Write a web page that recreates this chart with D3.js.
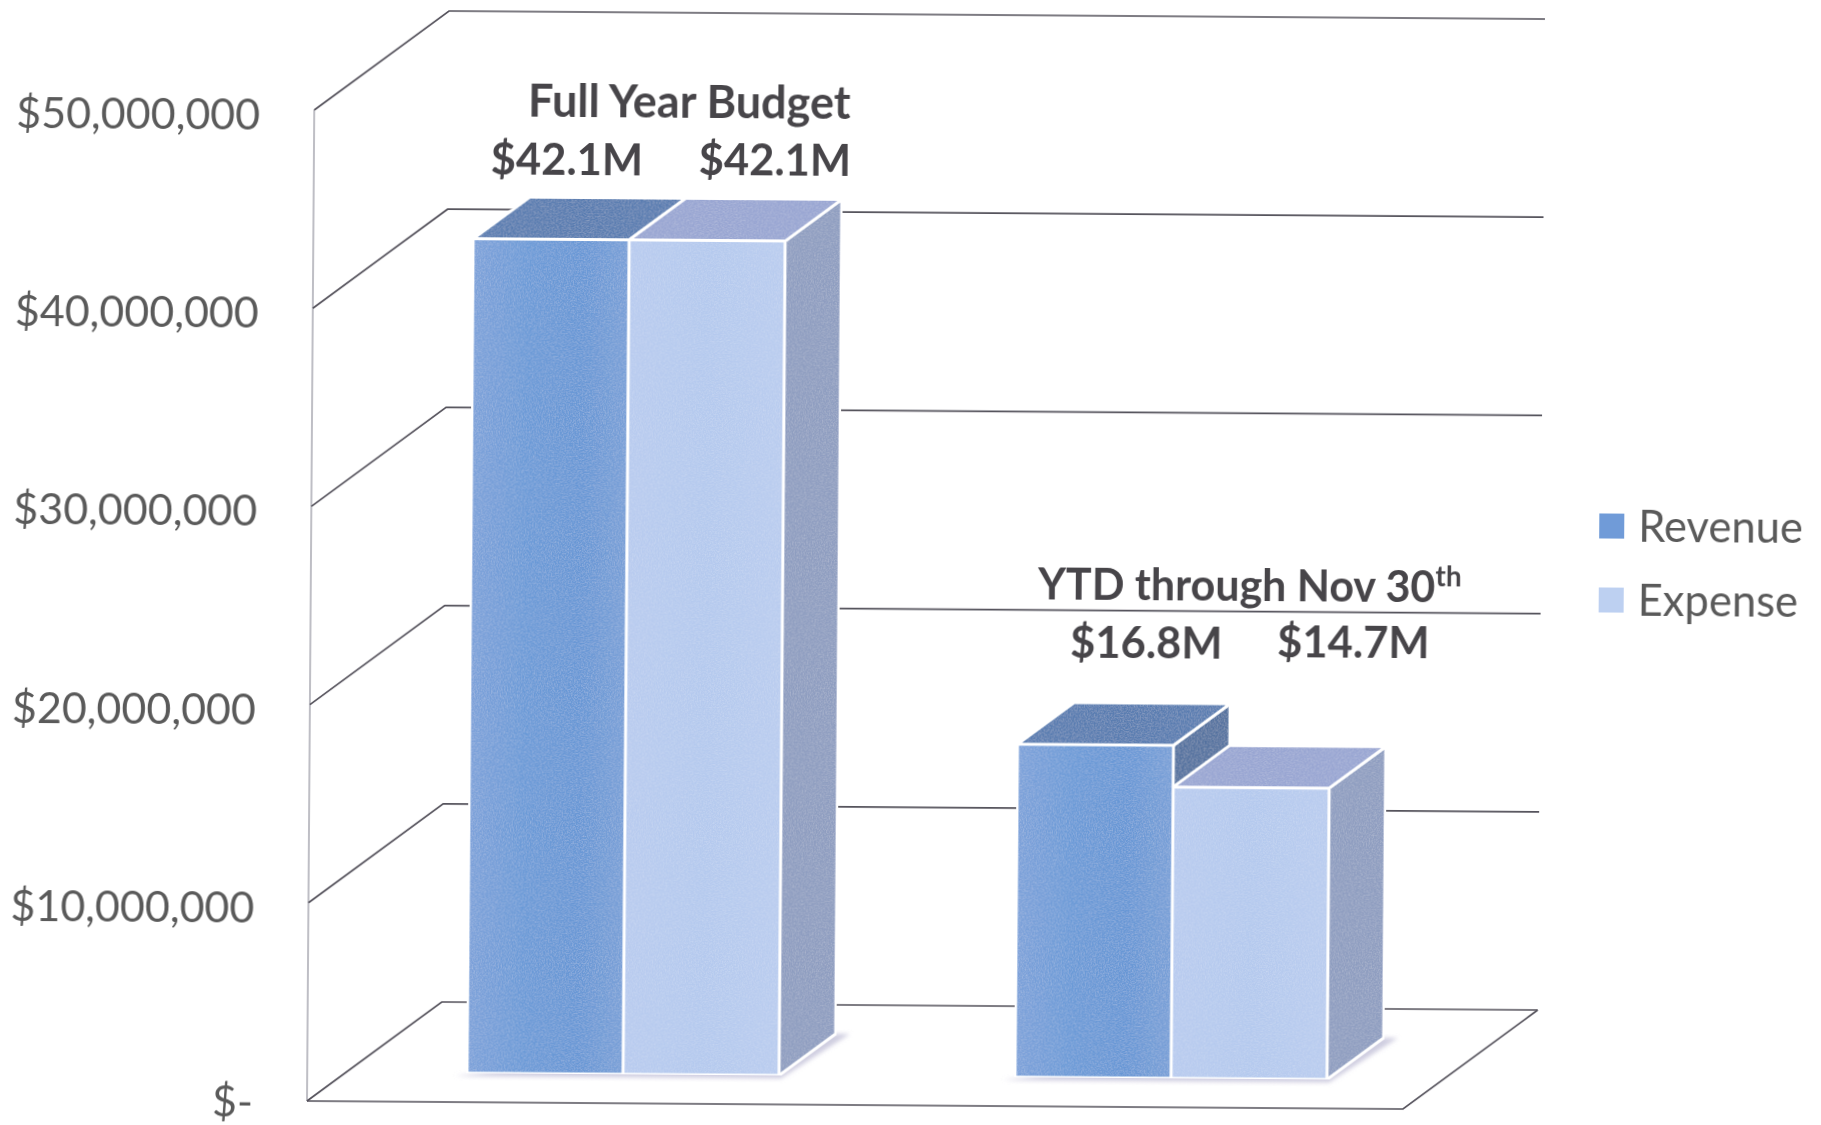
<!DOCTYPE html>
<html><head><meta charset="utf-8">
<script src="https://cdnjs.cloudflare.com/ajax/libs/d3/7.8.5/d3.min.js"></script>
<style>html,body{margin:0;padding:0;background:#fff}svg{display:block}text{font-family:Lato,"Open Sans",sans-serif}</style>
</head><body><svg id="c" width="1821" height="1125"></svg>
<script>
const categories = ["Full Year Budget", "YTD through Nov 30"];
const seriesNames = ["Revenue", "Expense"];
const revenue = [42100000, 16800000];
const expense = [42100000, 14700000];
const maxValue = 50000000;

const svg = d3.select("#c");
const defs = svg.append("defs");
const frontGrad = (id, stops) => {
  const g = defs.append("linearGradient").attr("id", id);
  stops.forEach(([o, c]) => g.append("stop").attr("offset", o).attr("stop-color", c));
};
frontGrad("gRevenue", [[0, "#7ca1d9"], [.35, "#6b9ad7"], [.7, "#6897d5"], [1, "#789fd7"]]);
frontGrad("gExpense", [[0, "#b8cbef"], [.5, "#b4c9ee"], [1, "#b9ccef"]]);
defs.append("filter").attr("id", "soft").append("feGaussianBlur").attr("stdDeviation", 2.2);
defs.append("filter").attr("id", "scan").append("feGaussianBlur").attr("stdDeviation", 0.55);
// faint speckle of the scanned print on the bar faces
const grain = defs.append("filter").attr("id", "grain").attr("x", 0).attr("y", 0).attr("width", 1).attr("height", 1);
grain.append("feTurbulence").attr("type", "fractalNoise").attr("baseFrequency", 0.7).attr("numOctaves", 2).attr("seed", 4).attr("result", "n");
grain.append("feColorMatrix").attr("in", "n").attr("type", "matrix")
  .attr("values", "0 0 0 0 1  0 0 0 0 1  0 0 0 0 1  0.4 0 0 0 -0.15").attr("result", "w");
grain.append("feComposite").attr("in", "w").attr("in2", "SourceAlpha").attr("operator", "in").attr("result", "s");
const gm = grain.append("feMerge");
gm.append("feMergeNode").attr("in", "SourceGraphic");
gm.append("feMergeNode").attr("in", "s");

const faces = {
  Revenue: { front: "url(#gRevenue)", top: "#587cb0", side: "#53719f" },
  Expense: { front: "url(#gExpense)", top: "#98a5d2", side: "#8e9dc0" }
};

const root = svg.append("g").attr("transform", "rotate(0.42 307 1101)");

const y = d3.scaleLinear().domain([0, maxValue]).range([1101, 110]);
const x0 = d3.scaleBand().domain(categories).range([310, 1406]);
const x1 = d3.scaleBand().domain(seriesNames).range([118, 430]);
const DX = 134, DY = 100;
const pt = (x, v, d) => [x + d * DX, y(v) - d * DY];
const poly = a => a.map(p => p.join(",")).join(" ");
const floorL = 307, floorR = 1403;

// walls and gridlines
const ticks = y.ticks(5);
const walls = root.append("g").attr("fill", "none").attr("filter", "url(#scan)");
walls.append("line").attr("x1", floorL).attr("x2", floorL).attr("y1", y(0)).attr("y2", y(maxValue))
  .attr("stroke", "#a9a9b2").attr("stroke-width", 1.5);
walls.selectAll("polyline.g").data(ticks).join("polyline").attr("class", "g")
  .attr("points", t => poly([pt(floorL, t, 0), pt(floorL, t, 1), pt(floorR, t, 1)]))
  .attr("stroke", "#55525c").attr("stroke-width", 1.7);
walls.append("polyline")
  .attr("points", poly([pt(floorL, 0, 0), pt(floorR, 0, 0), pt(floorR, 0, 1)]))
  .attr("stroke", "#55525c").attr("stroke-width", 1.7);

// y tick labels
root.selectAll("text.tick").data(ticks).join("text").attr("class", "tick")
  .attr("x", 253).attr("y", d => y(d) + (d === 0 ? 1 : 5)).attr("dy", ".35em").attr("text-anchor", "end")
  .attr("font-size", 43).attr("fill", "#5a5a5a").attr("filter", "url(#scan)")
  .text(d => d === 0 ? "$-" : d3.format("$,")(d));

// bars
const dFront = 0.29, dBack = 0.71;
const rows = categories.map((c, i) => ({ c, vals: [revenue[i], expense[i]] }));
const groups = root.selectAll("g.cat").data(rows).join("g").attr("class", "cat").attr("filter", "url(#scan)");
groups.each(function (r) {
  const g = d3.select(this);
  const xl = x0(r.c) + x1(seriesNames[0]);
  const xr = x0(r.c) + x1(seriesNames[1]) + x1.bandwidth();
  g.append("polygon")
    .attr("points", poly([pt(xl - 8, 0, dFront - .03), pt(xr + 6, 0, dFront - .03), pt(xr + 14, 0, dBack), pt(xr, 0, dBack)]))
    .attr("fill", "#cfcde0").attr("filter", "url(#soft)");
  r.vals.forEach((v, i) => {
    const n = seriesNames[i];
    const a = x0(r.c) + x1(n), b = a + x1.bandwidth();
    const f = faces[n];
    const face = (pts, fill) => g.append("polygon").attr("points", poly(pts)).attr("fill", fill)
      .attr("stroke", "#fff").attr("stroke-width", 3).attr("stroke-linejoin", "round").attr("filter", "url(#grain)");
    face([pt(b, 0, dFront), pt(b, 0, dBack), pt(b, v, dBack), pt(b, v, dFront)], f.side);
    face([pt(a, v, dFront), pt(a, v, dBack), pt(b, v, dBack), pt(b, v, dFront)], f.top);
    face([pt(a, 0, dFront), pt(b, 0, dFront), pt(b, v, dFront), pt(a, v, dFront)], f.front);
  });
});

// annotations
const money = v => "$" + (v / 1e6).toFixed(1) + "M";
const note = (x, yy, size) => root.append("text").attr("x", x).attr("y", yy).attr("text-anchor", "middle")
  .attr("font-size", size).attr("font-weight", 700).attr("fill", "#474549").attr("filter", "url(#scan)");
note(682, 115, 45).text(categories[0]);
note(560, 173, 43.5).text(money(revenue[0]));
note(768, 172, 43.5).text(money(expense[0]));
const ytd = note(1246, 594, 43).text(categories[1]);
ytd.append("tspan").attr("dy", -16).attr("font-size", 28).text("th");
note(1143, 652, 43.5).text(money(revenue[1]));
note(1350, 650, 43.5).text(money(expense[1]));

// legend
const lg = root.append("g").attr("filter", "url(#scan)");
const ly = d3.scalePoint().domain(seriesNames).range([517, 591]);
lg.selectAll("rect").data(seriesNames).join("rect")
  .attr("x", 1595).attr("y", d => ly(d) - 13).attr("width", 25).attr("height", 25)
  .attr("fill", (d, i) => i ? "#bdd0f1" : "#6f9bd8");
lg.selectAll("text").data(seriesNames).join("text")
  .attr("x", 1634).attr("y", d => ly(d)).attr("dy", ".35em")
  .attr("font-size", 43.5).attr("fill", "#5a5a5a").text(d => d);
</script></body></html>
